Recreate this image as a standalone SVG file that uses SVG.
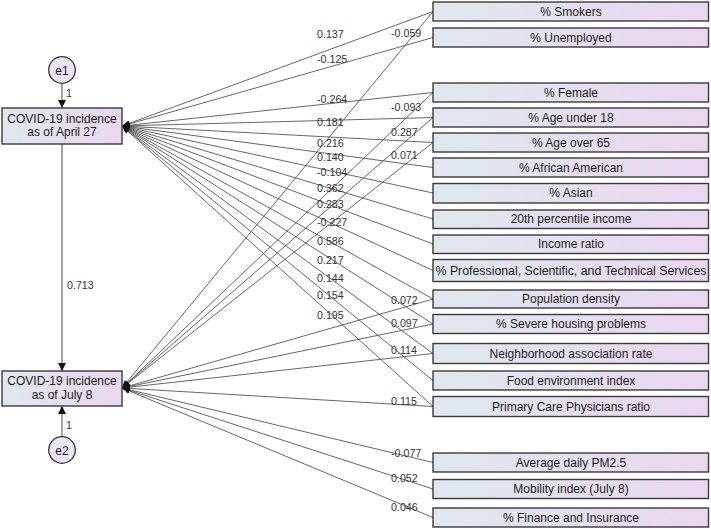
<svg xmlns="http://www.w3.org/2000/svg" width="711" height="529" viewBox="0 0 711 529">
<defs>
<linearGradient id="bg" x1="0" y1="0" x2="1" y2="0">
<stop offset="0" stop-color="#dee8ed"/>
<stop offset="1" stop-color="#ead7f0"/>
</linearGradient>
<marker id="ah" markerWidth="8" markerHeight="6" refX="8" refY="3" orient="auto" markerUnits="userSpaceOnUse">
<path d="M0,0 L8,3 L0,6 z" fill="#111"/>
</marker>
<marker id="av" markerWidth="8" markerHeight="8" refX="8" refY="4" orient="auto" markerUnits="userSpaceOnUse">
<path d="M0,0 L8,4 L0,8 z" fill="#111"/>
</marker>
</defs>
<style>
.box{fill:url(#bg);stroke:#3a3a3a;stroke-width:1.4}
.t{font-family:"Liberation Sans",Arial,sans-serif;font-size:12px;fill:#1e1e1e;text-anchor:middle}
.n{font-family:"Liberation Sans",Arial,sans-serif;font-size:10.7px;fill:#333}
.c{fill:none;stroke:#555;stroke-width:0.9}
.v{fill:none;stroke:#555;stroke-width:1.1}
.e{fill:#ece3f3;stroke:#333;stroke-width:1.3}
</style>
<rect width="711" height="529" fill="#fff"/>

<g id="connectors">
<!-- to April (end 123,126) -->
<g marker-end="url(#ah)" class="c">
<line x1="433" y1="11.5" x2="122" y2="126"/>
<line x1="433" y1="37.5" x2="122" y2="126"/>
<line x1="433" y1="92.5" x2="122" y2="126"/>
<line x1="433" y1="117.5" x2="122" y2="126"/>
<line x1="433" y1="142.5" x2="122" y2="126"/>
<line x1="433" y1="167.5" x2="122" y2="126"/>
<line x1="433" y1="193" x2="122" y2="126"/>
<line x1="433" y1="219" x2="122" y2="126"/>
<line x1="433" y1="244" x2="122" y2="126"/>
<line x1="433" y1="270.5" x2="122" y2="126"/>
<line x1="433" y1="299" x2="122" y2="126"/>
<line x1="433" y1="324" x2="122" y2="126"/>
<line x1="433" y1="353.5" x2="122" y2="126"/>
<line x1="433" y1="380.5" x2="122" y2="126"/>
<line x1="433" y1="406.5" x2="122" y2="126"/>
</g>
<!-- to July (end 122,388) -->
<g marker-end="url(#ah)" class="c">
<line x1="433" y1="11.5" x2="122" y2="388"/>
<line x1="433" y1="92.5" x2="122" y2="388"/>
<line x1="433" y1="117.5" x2="122" y2="388"/>
<line x1="433" y1="142.5" x2="122" y2="388"/>
<line x1="433" y1="299" x2="122" y2="388"/>
<line x1="433" y1="324" x2="122" y2="388"/>
<line x1="433" y1="353.5" x2="122" y2="388"/>
<line x1="433" y1="406.5" x2="122" y2="388"/>
<line x1="433" y1="462.5" x2="122" y2="388"/>
<line x1="433" y1="489" x2="122" y2="388"/>
<line x1="433" y1="517.5" x2="122" y2="388"/>
</g>
<g class="v" marker-end="url(#av)">
<line x1="62" y1="83.5" x2="62" y2="108"/>
<line x1="62" y1="144" x2="62" y2="371"/>
<line x1="62" y1="437" x2="62" y2="406"/>
</g>
<g id="coef">
<text class="n" x="66" y="96.5">1</text>
<text class="n" x="66" y="429">1</text>
<text class="n" x="67" y="289">0.713</text>
<text class="n" x="317" y="38">0.137</text>
<text class="n" x="317" y="63">-0.125</text>
<text class="n" x="317" y="102.5">-0.264</text>
<text class="n" x="317" y="126">0.181</text>
<text class="n" x="317" y="146.5">0.216</text>
<text class="n" x="317" y="160.5">0.140</text>
<text class="n" x="317" y="175.5">-0.104</text>
<text class="n" x="317" y="192">0.362</text>
<text class="n" x="317" y="208">0.283</text>
<text class="n" x="317" y="226">-0.227</text>
<text class="n" x="317" y="245">0.586</text>
<text class="n" x="317" y="264">0.217</text>
<text class="n" x="317" y="282">0.144</text>
<text class="n" x="317" y="299">0.154</text>
<text class="n" x="317" y="319">0.195</text>
<text class="n" x="391" y="37">-0.059</text>
<text class="n" x="391" y="110.5">-0.093</text>
<text class="n" x="391" y="136">0.287</text>
<text class="n" x="391" y="159">0.071</text>
<text class="n" x="391" y="304">0.072</text>
<text class="n" x="391" y="327">0.097</text>
<text class="n" x="391" y="354">0.114</text>
<text class="n" x="391" y="405">0.115</text>
<text class="n" x="391" y="457">-0.077</text>
<text class="n" x="391" y="481.5">0.052</text>
<text class="n" x="391" y="511">0.046</text>
</g>
</g>

<g id="e1"><circle class="e" cx="62" cy="70" r="13.3"/><text class="t" x="62" y="74.5">e1</text></g>
<g id="e2"><circle class="e" cx="62" cy="450" r="13.3"/><text class="t" x="62" y="454.5">e2</text></g>
<g id="april"><rect class="box" x="2" y="108" width="120" height="36"/><text class="t" x="62" y="122.5">COVID-19 incidence</text><text class="t" x="62" y="136">as of April 27</text></g>
<g id="july"><rect class="box" x="2" y="371" width="120" height="35"/><text class="t" x="62" y="385">COVID-19 incidence</text><text class="t" x="62" y="398.5">as of July 8</text></g>

<g id="smokers"><rect class="box" x="433" y="2" width="275.5" height="19"/><text class="t" x="571" y="15.8">% Smokers</text></g>
<g id="unemployed"><rect class="box" x="433" y="28" width="275.5" height="19"/><text class="t" x="571" y="41.8">% Unemployed</text></g>
<g id="female"><rect class="box" x="433" y="83" width="275.5" height="19"/><text class="t" x="571" y="96.8">% Female</text></g>
<g id="under18"><rect class="box" x="433" y="108" width="275.5" height="19"/><text class="t" x="571" y="121.8">% Age under 18</text></g>
<g id="over65"><rect class="box" x="433" y="133" width="275.5" height="19"/><text class="t" x="571" y="146.8">% Age over 65</text></g>
<g id="african"><rect class="box" x="433" y="158" width="275.5" height="19"/><text class="t" x="571" y="171.8">% African American</text></g>
<g id="asian"><rect class="box" x="433" y="183.5" width="275.5" height="19.5"/><text class="t" x="571" y="197.3">% Asian</text></g>
<g id="income20"><rect class="box" x="433" y="210" width="275.5" height="18.5"/><text class="t" x="571" y="223.3">20th percentile income</text></g>
<g id="incomeratio"><rect class="box" x="433" y="235" width="275.5" height="18.5"/><text class="t" x="571" y="248.3">Income ratio</text></g>
<g id="professional"><rect class="box" x="433" y="259.5" width="275.5" height="22"/><text class="t" x="571" y="274.8" textLength="271" lengthAdjust="spacingAndGlyphs">% Professional, Scientific, and Technical Services</text></g>
<g id="popdensity"><rect class="box" x="433" y="290" width="275.5" height="18"/><text class="t" x="571" y="303.3">Population density</text></g>
<g id="housing"><rect class="box" x="433" y="314.5" width="275.5" height="19"/><text class="t" x="571" y="328.3">% Severe housing problems</text></g>
<g id="neighborhood"><rect class="box" x="433" y="343.5" width="275.5" height="20"/><text class="t" x="571" y="357.8">Neighborhood association rate</text></g>
<g id="food"><rect class="box" x="433" y="371" width="275.5" height="19"/><text class="t" x="571" y="384.8">Food environment index</text></g>
<g id="primarycare"><rect class="box" x="433" y="396.5" width="275.5" height="20"/><text class="t" x="571" y="410.8">Primary Care Physicians ratio</text></g>
<g id="pm25"><rect class="box" x="433" y="453" width="275.5" height="19"/><text class="t" x="571" y="466.8">Average daily PM2.5</text></g>
<g id="mobility"><rect class="box" x="433" y="479.5" width="275.5" height="19"/><text class="t" x="571" y="493.3">Mobility index (July 8)</text></g>
<g id="finance"><rect class="box" x="433" y="508" width="275.5" height="19"/><text class="t" x="571" y="521.8">% Finance and Insurance</text></g>
</svg>
